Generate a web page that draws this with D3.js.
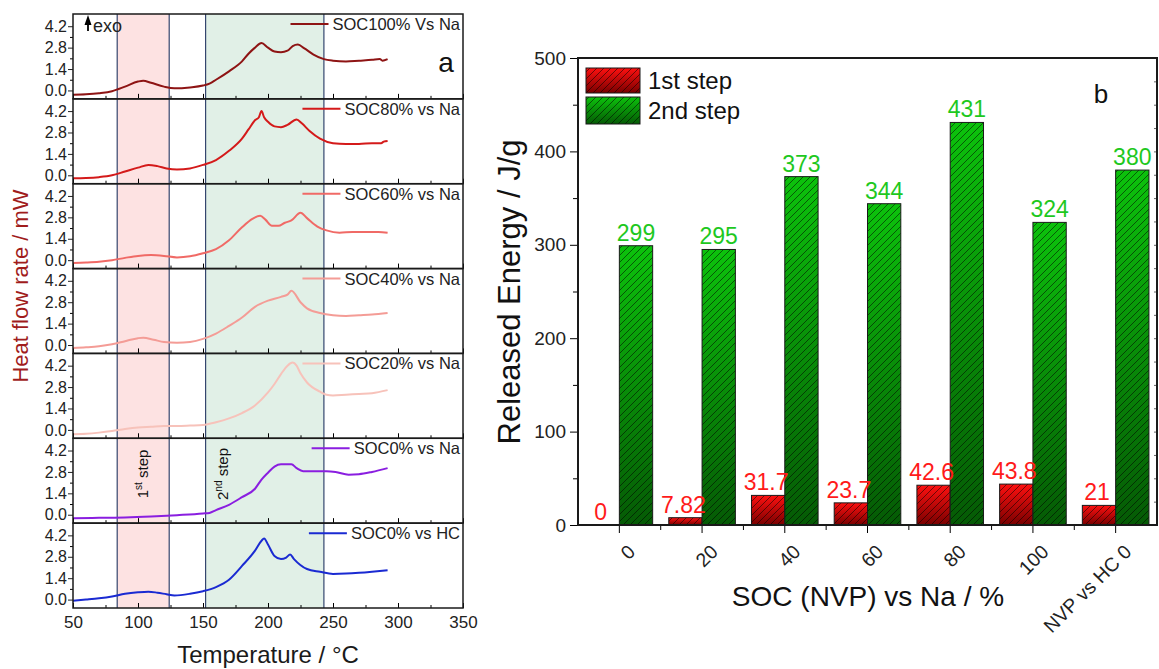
<!DOCTYPE html>
<html>
<head>
<meta charset="utf-8">
<script src="https://cdn.jsdelivr.net/npm/d3@7"></script>
<style>
  body { margin: 0; background: #fff; }
  text { font-family: "Liberation Sans", Arial, sans-serif; }
</style>
</head>
<body>
<div id="chart"></div>
<script>
// ---- panel a data: DSC curves, [temperature °C, heat flow mW]
var soc100Na = [[50,-0.28],[60,-0.25],[70,-0.18],[80,-0.05],[90,0.25],[100,0.58],[104,0.64],[110,0.5],[120,0.25],[128,0.14],[140,0.2],[150,0.32],[155,0.45],[160,0.7],[170,1.25],[180,1.9],[185,2.4],[190,2.8],[195,3.1],[200,2.8],[205,2.55],[210,2.5],[215,2.6],[219,2.9],[223,3.0],[228,2.75],[235,2.35],[243,2.05],[250,1.95],[260,1.9],[270,1.95],[280,2.0],[286,2.05],[288,1.95],[292,2.05]];
var soc80Na = [[50,-0.2],[60,-0.18],[70,-0.12],[80,0.0],[90,0.25],[100,0.5],[108,0.68],[115,0.6],[122,0.45],[130,0.38],[140,0.45],[150,0.68],[160,1.0],[170,1.6],[180,2.4],[185,3.0],[190,3.6],[193,3.8],[195,4.2],[197,3.8],[200,3.5],[205,3.2],[210,3.15],[215,3.3],[222,3.65],[226,3.4],[232,2.9],[240,2.4],[250,2.1],[260,2.05],[270,2.05],[280,2.1],[287,2.1],[289,2.2],[292,2.25]];
var soc60Na = [[50,-0.18],[60,-0.15],[70,-0.1],[80,0.0],[90,0.15],[100,0.28],[110,0.33],[120,0.28],[130,0.18],[140,0.25],[150,0.45],[160,0.72],[170,1.3],[180,2.15],[188,2.7],[194,2.9],[198,2.65],[203,2.25],[208,2.25],[213,2.45],[218,2.6],[225,3.1],[230,2.75],[238,2.2],[245,1.95],[255,1.8],[265,1.85],[275,1.85],[285,1.85],[292,1.8]];
var soc40Na = [[50,-0.2],[60,-0.15],[70,-0.08],[80,0.05],[90,0.25],[100,0.45],[104,0.48],[112,0.35],[120,0.2],[130,0.15],[140,0.2],[150,0.4],[160,0.75],[170,1.25],[180,1.8],[190,2.5],[200,2.9],[210,3.15],[215,3.3],[218,3.55],[225,2.8],[230,2.4],[240,2.1],[250,1.95],[260,1.9],[270,1.95],[280,2.0],[292,2.1]];
var soc20Na = [[50,-0.28],[60,-0.25],[70,-0.18],[80,-0.08],[90,0.05],[100,0.15],[110,0.2],[120,0.25],[130,0.25],[140,0.28],[150,0.32],[160,0.5],[170,0.75],[180,1.1],[190,1.6],[200,2.45],[205,3.0],[210,3.65],[215,4.2],[219,4.4],[222,4.2],[225,3.7],[230,3.1],[240,2.5],[245,2.3],[250,2.25],[260,2.3],[270,2.35],[280,2.4],[292,2.6]];
var soc0Na = [[50,-0.23],[70,-0.2],[90,-0.18],[110,-0.12],[130,-0.03],[150,0.08],[155,0.12],[160,0.3],[170,0.65],[180,1.15],[190,1.7],[195,2.3],[200,2.75],[205,3.15],[210,3.3],[218,3.3],[222,3.05],[227,2.85],[235,2.85],[245,2.85],[252,2.8],[262,2.62],[270,2.65],[280,2.8],[292,3.05]];
var soc0HC = [[50,-0.07],[60,0.0],[70,0.08],[80,0.2],[90,0.38],[100,0.48],[108,0.52],[115,0.45],[122,0.35],[128,0.27],[140,0.38],[150,0.55],[160,0.82],[170,1.3],[180,2.2],[190,3.2],[195,3.85],[197,4.0],[200,3.6],[205,2.85],[210,2.65],[214,2.75],[217,2.95],[220,2.65],[230,2.0],[240,1.82],[250,1.68],[260,1.7],[270,1.75],[280,1.82],[292,1.92]];
var seriesNames = ['SOC100% Vs Na', 'SOC80% vs Na', 'SOC60% vs Na', 'SOC40% vs Na', 'SOC20% vs Na', 'SOC0% vs Na', 'SOC0% vs HC'];
var stepRanges = [[84, 124], [152, 243]];
var tempTicks = [50, 100, 150, 200, 250, 300, 350];
var flowTicks = [0, 1.4, 2.8, 4.2];

// ---- panel b data: released energy, J/g
var socCategories = ['0', '20', '40', '60', '80', '100', 'NVP vs HC 0'];
var firstStep = [0, 7.82, 31.7, 23.7, 42.6, 43.8, 21];
var secondStep = [299, 295, 373, 344, 431, 324, 380];
var energyTicks = [0, 100, 200, 300, 400, 500];

var lineColors = ['#8e1414', '#d41a1a', '#f06a66', '#f49c96', '#f7c2ba', '#8a1ee0', '#1a2ad2'];

var svg = d3.select('#chart').append('svg')
  .attr('width', 1159)
  .attr('height', 669);

// ================= panel a =================
var aLeft = 73, aRight = 463, aTop = 14, aBottom = 608;
var panelH = (aBottom - aTop) / seriesNames.length;
var series = [soc100Na, soc80Na, soc60Na, soc40Na, soc20Na, soc0Na, soc0HC];

var x = d3.scaleLinear().domain([50, 350]).range([aLeft, aRight]);

var pa = svg.append('g');

// shaded step regions
stepRanges.forEach(function (r, i) {
  pa.append('rect')
    .attr('x', x(r[0]))
    .attr('y', aTop)
    .attr('width', x(r[1]) - x(r[0]))
    .attr('height', aBottom - aTop)
    .attr('fill', i === 0 ? '#fde2e2' : '#e1f0e7');
  r.forEach(function (t) {
    pa.append('line')
      .attr('x1', x(t)).attr('x2', x(t))
      .attr('y1', aTop).attr('y2', aBottom)
      .attr('stroke', '#34466e')
      .attr('stroke-width', 1.2);
  });
});

series.forEach(function (data, i) {
  var top = aTop + i * panelH;
  var y = d3.scaleLinear().domain([-0.55, 5.0]).range([top + panelH, top]);

  var line = d3.line()
    .x(function (d) { return x(d[0]); })
    .y(function (d) { return y(d[1]); })
    .curve(d3.curveMonotoneX);

  pa.append('path')
    .datum(data)
    .attr('fill', 'none')
    .attr('stroke', lineColors[i])
    .attr('stroke-width', 2)
    .attr('d', line);

  // y axis
  var ya = pa.append('g')
    .attr('transform', 'translate(' + aLeft + ',0)')
    .call(d3.axisLeft(y).tickValues(flowTicks).tickFormat(d3.format('.1f')).tickSize(5).tickSizeOuter(0));
  ya.select('.domain').remove();
  ya.selectAll('text').style('font-size', '16px').attr('fill', '#222').attr('x', -6);
  ya.selectAll('line').attr('stroke', '#222');
  pa.append('g')
    .attr('transform', 'translate(' + aLeft + ',0)')
    .call(d3.axisLeft(y).tickValues([0.7, 2.1, 3.5]).tickFormat('').tickSize(3).tickSizeOuter(0))
    .call(function (g) { g.select('.domain').remove(); });

  // inner x ticks on panel bottom
  var xa = pa.append('g')
    .attr('transform', 'translate(0,' + (top + panelH) + ')')
    .call(d3.axisTop(x).tickValues(tempTicks).tickSize(5).tickFormat('').tickSizeOuter(0));
  xa.select('.domain').remove();
  pa.append('g')
    .attr('transform', 'translate(0,' + (top + panelH) + ')')
    .call(d3.axisTop(x).tickValues(d3.range(75, 350, 50)).tickSize(3).tickFormat('').tickSizeOuter(0))
    .call(function (g) { g.select('.domain').remove(); });

  // frame
  pa.append('rect')
    .attr('x', aLeft).attr('y', top)
    .attr('width', aRight - aLeft).attr('height', panelH)
    .attr('fill', 'none')
    .attr('stroke', '#1a1a1a')
    .attr('stroke-width', 1.5);

  // legend entry
  var lt = pa.append('text')
    .attr('x', aRight - 3)
    .attr('y', top + 16)
    .attr('text-anchor', 'end')
    .style('font-size', '16.5px')
    .attr('fill', '#222')
    .text(seriesNames[i]);
  var tw = lt.node().getComputedTextLength();
  pa.append('line')
    .attr('x1', aRight - 3 - tw - 42).attr('x2', aRight - 3 - tw - 4)
    .attr('y1', top + 10).attr('y2', top + 10)
    .attr('stroke', lineColors[i])
    .attr('stroke-width', 2);
});

// bottom x labels
var xLabels = pa.append('g')
  .attr('transform', 'translate(0,' + aBottom + ')')
  .call(d3.axisBottom(x).tickValues(tempTicks).tickSize(0).tickPadding(8));
xLabels.select('.domain').remove();
xLabels.selectAll('text').style('font-size', '17px').attr('fill', '#222');

pa.append('text')
  .attr('x', x(200))
  .attr('y', 663)
  .attr('text-anchor', 'middle')
  .style('font-size', '24px')
  .attr('fill', '#1a1a1a')
  .text('Temperature / °C');

pa.append('text')
  .attr('transform', 'translate(28,286) rotate(-90)')
  .attr('text-anchor', 'middle')
  .style('font-size', '22px')
  .attr('fill', '#a01c1c')
  .text('Heat flow rate / mW');

// exo arrow
pa.append('line')
  .attr('x1', 88).attr('x2', 88).attr('y1', 31).attr('y2', 22)
  .attr('stroke', '#000').attr('stroke-width', 1.8);
pa.append('path')
  .attr('d', 'M84.5,25 L88,15 L91.5,25 Z')
  .attr('fill', '#000');
pa.append('text')
  .attr('x', 93).attr('y', 32)
  .style('font-size', '18px')
  .attr('fill', '#222')
  .text('exo');

pa.append('text')
  .attr('x', 446).attr('y', 72)
  .attr('text-anchor', 'middle')
  .style('font-size', '28px')
  .attr('fill', '#111')
  .text('a');

// step labels
[['1', 'st', ' step', 143], ['2', 'nd', ' step', 223]].forEach(function (s) {
  var t = pa.append('text')
    .attr('transform', 'translate(' + (s[3] + 5) + ',474) rotate(-90)')
    .attr('text-anchor', 'middle')
    .style('font-size', '15px')
    .attr('fill', '#111');
  t.append('tspan').text(s[0]);
  t.append('tspan').attr('dy', -6).style('font-size', '10px').text(s[1]);
  t.append('tspan').attr('dy', 6).text(s[2]);
});

// ================= panel b =================
var bLeft = 578, bRight = 1157, bTop = 58, bBottom = 525;
var xb = d3.scaleBand().domain(socCategories).range([bLeft, bRight]);
var yb = d3.scaleLinear().domain([0, 500]).range([bBottom, bTop]);
var barW = 33.3;

var defs = svg.append('defs');
function gradient(id, c1, c2) {
  var g = defs.append('linearGradient').attr('id', id)
    .attr('x1', 0).attr('y1', 0).attr('x2', 0).attr('y2', 1);
  g.append('stop').attr('offset', '0%').attr('stop-color', c1);
  g.append('stop').attr('offset', '100%').attr('stop-color', c2);
}
gradient('gradRed', '#ff1010', '#780000');
gradient('gradGreen', '#0cc20c', '#055a05');
defs.append('pattern')
  .attr('id', 'hatch')
  .attr('patternUnits', 'userSpaceOnUse')
  .attr('width', 7).attr('height', 7)
  .append('path')
  .attr('d', 'M0,7 L7,0 M-1,1 L1,-1 M6,8 L8,6')
  .attr('stroke', '#000')
  .attr('stroke-opacity', 0.75)
  .attr('stroke-width', 0.7);

var pb = svg.append('g');

function hatchedRect(g, x0, y0, w, h, grad) {
  g.append('rect').attr('x', x0).attr('y', y0).attr('width', w).attr('height', h)
    .attr('fill', 'url(#' + grad + ')');
  g.append('rect').attr('x', x0).attr('y', y0).attr('width', w).attr('height', h)
    .attr('fill', 'url(#hatch)')
    .attr('stroke', '#1a1a1a')
    .attr('stroke-width', 1);
}

socCategories.forEach(function (c, i) {
  var cx = xb(c) + xb.bandwidth() / 2;
  if (firstStep[i] > 0) {
    hatchedRect(pb, cx - barW, yb(firstStep[i]), barW, bBottom - yb(firstStep[i]), 'gradRed');
  }
  hatchedRect(pb, cx, yb(secondStep[i]), barW, bBottom - yb(secondStep[i]), 'gradGreen');

  pb.append('text')
    .attr('x', cx - barW / 2 - 2)
    .attr('y', yb(firstStep[i]) - 5)
    .attr('text-anchor', 'middle')
    .style('font-size', '23px')
    .attr('fill', '#ff1a1a')
    .text(String(firstStep[i]));
  pb.append('text')
    .attr('x', cx + barW / 2)
    .attr('y', yb(secondStep[i]) - 5)
    .attr('text-anchor', 'middle')
    .style('font-size', '23px')
    .attr('fill', '#1ec81e')
    .text(String(secondStep[i]));

  pb.append('text')
    .attr('transform', 'translate(' + (cx + 17) + ',553) rotate(-45)')
    .attr('text-anchor', 'end')
    .style('font-size', '19.5px')
    .attr('fill', '#222')
    .text(c);
});

// axes of b
var yAx = pb.append('g')
  .attr('transform', 'translate(' + bLeft + ',0)')
  .call(d3.axisLeft(yb).tickValues(energyTicks).tickSize(8).tickPadding(4).tickSizeOuter(0));
yAx.select('.domain').remove();
yAx.selectAll('text').style('font-size', '19px').attr('fill', '#222');
pb.append('g')
  .attr('transform', 'translate(' + bLeft + ',0)')
  .call(d3.axisLeft(yb).tickValues(d3.range(50, 500, 100)).tickSize(5).tickFormat('').tickSizeOuter(0))
  .call(function (g) { g.select('.domain').remove(); });
pb.append('g')
  .attr('transform', 'translate(' + bRight + ',0)')
  .call(d3.axisLeft(yb).tickValues(d3.range(25, 500, 25)).tickSize(3).tickFormat('').tickSizeOuter(0))
  .call(function (g) { g.select('.domain').remove(); g.selectAll('line').attr('stroke', '#666'); });

var xAx = pb.append('g')
  .attr('transform', 'translate(0,' + bBottom + ')')
  .call(d3.axisBottom(xb).tickSize(8).tickFormat('').tickSizeOuter(0));
xAx.select('.domain').remove();
pb.append('g')
  .attr('transform', 'translate(0,' + bBottom + ')')
  .selectAll('line')
  .data(socCategories.slice(1))
  .enter().append('line')
  .attr('x1', function (c) { return xb(c); })
  .attr('x2', function (c) { return xb(c); })
  .attr('y1', 0).attr('y2', 5)
  .attr('stroke', '#000');

pb.append('rect')
  .attr('x', bLeft).attr('y', bTop)
  .attr('width', bRight - bLeft).attr('height', bBottom - bTop)
  .attr('fill', 'none')
  .attr('stroke', '#1a1a1a')
  .attr('stroke-width', 2);

// legend b
hatchedRect(pb, 586, 68, 54, 25, 'gradRed');
hatchedRect(pb, 586, 97, 54, 27, 'gradGreen');
pb.append('text').attr('x', 648).attr('y', 89).style('font-size', '24px').attr('fill', '#111').text('1st step');
pb.append('text').attr('x', 648).attr('y', 119).style('font-size', '24px').attr('fill', '#111').text('2nd step');

pb.append('text')
  .attr('x', 1101).attr('y', 103)
  .attr('text-anchor', 'middle')
  .style('font-size', '26px')
  .attr('fill', '#111')
  .text('b');

pb.append('text')
  .attr('transform', 'translate(520,292) rotate(-90)')
  .attr('text-anchor', 'middle')
  .style('font-size', '31px')
  .attr('fill', '#111')
  .text('Released Energy / J/g');

pb.append('text')
  .attr('x', 868)
  .attr('y', 606)
  .attr('text-anchor', 'middle')
  .style('font-size', '28px')
  .attr('fill', '#111')
  .text('SOC (NVP) vs Na / %');
</script>
</body>
</html>
